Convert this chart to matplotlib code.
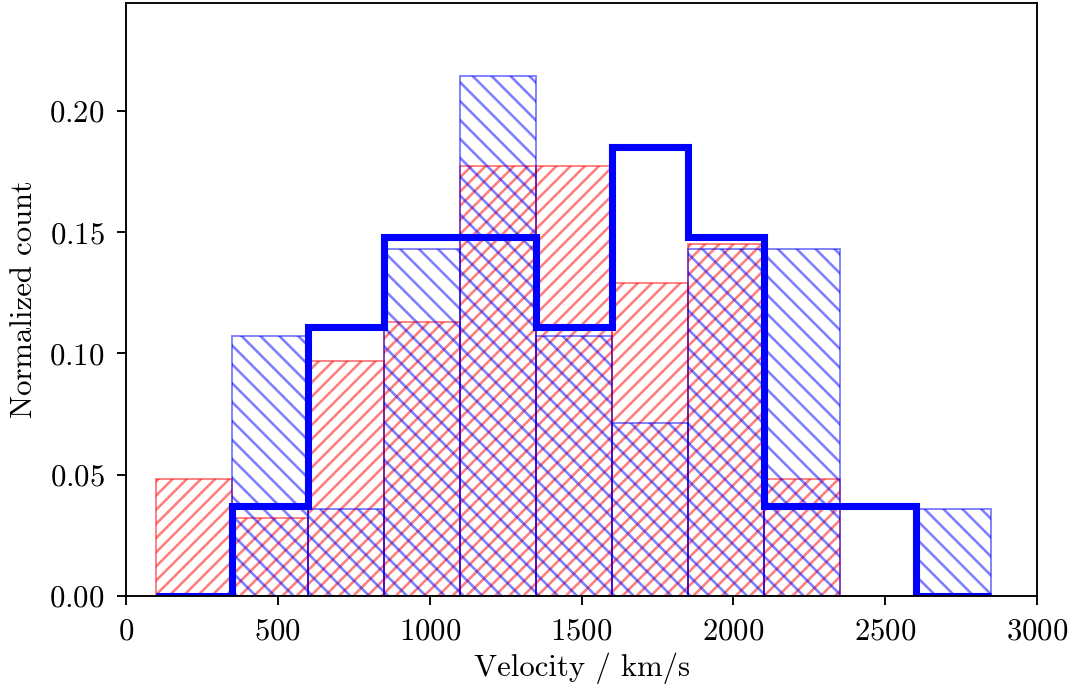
import numpy as np
import matplotlib
matplotlib.use("Agg")
import matplotlib.pyplot as plt

plt.rcParams.update({
    "font.family": "serif",
    "font.serif": ["cmr10"],
    "mathtext.fontset": "cm",
    "axes.formatter.use_mathtext": True,
    "font.size": 13,
    "hatch.linewidth": 1.1,
})

bin_edges = [100, 350, 600, 850, 1100, 1350, 1600, 1850, 2100, 2350, 2600, 2850]
red_values = [0.0484, 0.0323, 0.0968, 0.1129, 0.1774, 0.1774, 0.1290, 0.1452, 0.0484, 0.0, 0.0]
blue_hatch_values = [0.0, 0.1071, 0.0357, 0.1429, 0.2143, 0.1071, 0.0714, 0.1429, 0.1429, 0.0, 0.0357]
blue_step_values = [0.0, 0.0370, 0.1111, 0.1481, 0.1481, 0.1111, 0.1852, 0.1481, 0.0370, 0.0370, 0.0]

dpi = 170
fig = plt.figure(figsize=(1077 / dpi, 688 / dpi), dpi=dpi)
ax = fig.add_axes([126 / 1077, (688 - 596) / 688, (1037 - 126) / 1077, (596 - 3) / 688])

edges = np.array(bin_edges, dtype=float)
centers = edges[:-1]
ax.hist(centers, bins=edges, weights=red_values, histtype="bar", fill=False,
        hatch="////", edgecolor="red", alpha=0.5, linewidth=0.8)
ax.hist(centers, bins=edges, weights=blue_hatch_values, histtype="bar", fill=False,
        hatch="\\\\\\", edgecolor="blue", alpha=0.5, linewidth=0.8)
ax.hist(centers, bins=edges, weights=blue_step_values, histtype="step",
        color="blue", linewidth=3.0)

ax.set_xlim(0, 3000)
ax.set_ylim(0, 0.2445)
ax.set_xticks([0, 500, 1000, 1500, 2000, 2500, 3000])
ax.set_yticks([0.0, 0.05, 0.10, 0.15, 0.20])
ax.tick_params(axis="both", length=4.0, width=0.8, pad=5)
ax.set_xlabel("Velocity / km/s", labelpad=3)
ax.set_ylabel("Normalized count", labelpad=5)

fig.savefig("out.png", dpi=dpi)
